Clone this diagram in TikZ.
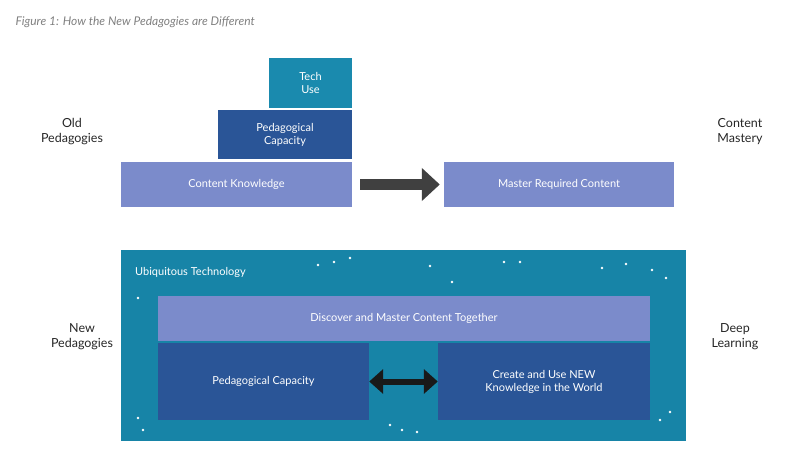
\documentclass[tikz,border=0pt]{standalone}
\usepackage{fontspec}
\setmainfont{Lato}
\usetikzlibrary{positioning,fit,calc,arrows.meta}
\definecolor{lavender}{HTML}{7B8BCB}
\definecolor{deepblue}{HTML}{2A5597}
\definecolor{teal}{HTML}{1A8AAE}
\definecolor{bigteal}{HTML}{1784A7}
\begin{document}
\begin{tikzpicture}[x=1pt,y=-1pt,
                    box/.style={draw=none, inner sep=0pt, text=white, font=\fontsize{11}{13}\selectfont, align=center},
                    side/.style={font=\fontsize{12.5}{15}\selectfont, align=center, text=black!85},
                ]
                \useasboundingbox (0,0) rectangle (800,463);
                \node[anchor=west, text=black!50, font=\itshape\fontsize{12}{14}\selectfont] (title) at (12,22) {Figure 1: How the New Pedagogies are Different};
                % old pedagogies
                \node[box, fill=lavender, minimum width=231, minimum height=45] (content) at (236.5,184.5) {Content Knowledge};
                \node[box, fill=deepblue, minimum width=134, minimum height=49] (pedcap) at (285,134.5) {Pedagogical\\Capacity};
                \node[box, fill=teal, minimum width=83, minimum height=50] (tech) at (310.5,83) {Tech\\Use};
                \node[box, fill=lavender, minimum width=230, minimum height=45] (master) at (559,184.5) {Master Required Content};
                \node[side] (old) at (72,132) {Old\\Pedagogies};
                \node[side] (mastery) at (740,132) {Content\\Mastery};
                \coordinate (a1) at ($(content.east)+(8,0)$);
                \coordinate (a2) at ($(master.west)+(-4,0)$);
                \draw[line width=11pt, black!75, -{Triangle[length=18pt,width=32pt]}] (a1) -- (a2);
                % new pedagogies
                \node[box, fill=bigteal, minimum width=565, minimum height=191] (ubi) at (403.5,345.5) {};
                \node[box, anchor=west] (ubilabel) at (135,272) {Ubiquitous Technology};
                \foreach \px/\py in {318/265,334/262,350/258,430/266,452/282,504/262,520/262,602/268,626/264,652/270,666/278,138/298,178/300,197/303,175/316,170/330,217/323,195/333,560/322,567/324,630/330,640/336,180/352,194/352,350/352,360/356,452/348,460/345,470/357,178/398,190/408,218/410,200/412,336/408,390/425,402/430,417/432,455/408,471/412,480/402,640/400,670/412,660/420,138/418,143/430}
                    \fill[white] (\px,\py) circle (1.4);
                \node[box, fill=lavender, minimum width=492, minimum height=45] (discover) at (404,318.5) {Discover and Master Content Together};
                \node[box, fill=deepblue, minimum width=211, minimum height=77] (pedcap2) at (263.5,381.5) {Pedagogical Capacity};
                \node[box, fill=deepblue, minimum width=212, minimum height=77] (create) at (544,381.5) {Create and Use NEW\\Knowledge in the World};
                \draw[line width=6pt, black!90, {Triangle[length=14pt,width=24pt]}-{Triangle[length=14pt,width=24pt]}] (pedcap2.east) -- (create.west);
                \node[side] (new) at (82,337) {New\\Pedagogies};
                \node[side] (deep) at (735,337) {Deep\\Learning};
            \end{tikzpicture}
\end{document}
